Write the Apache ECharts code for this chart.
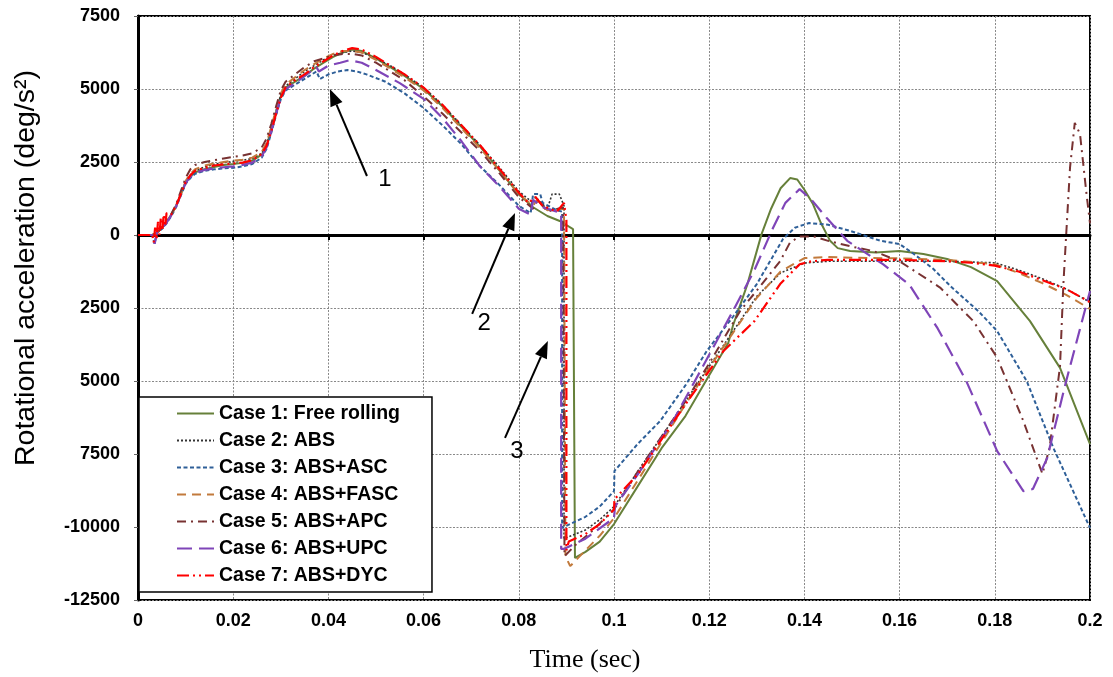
<!DOCTYPE html>
<html><head><meta charset="utf-8">
<script src="https://cdn.jsdelivr.net/npm/echarts@6/dist/echarts.min.js"></script>
<style>html,body{margin:0;padding:0;background:#fff}#c{width:1113px;height:677px}</style>
</head><body><div id="c"></div>
<script>
// ---- tick labels (as printed in the figure) ----
const xTickLabels = ['0','0.02','0.04','0.06','0.08','0.1','0.12','0.14','0.16','0.18','0.2'];
const yTickLabels = ['-12500','-10000','7500','5000','2500','0','2500','5000','7500']; // bottom -> top, as printed
const seriesNames = ['Case 1: Free rolling','Case 2: ABS','Case 3: ABS+ASC','Case 4: ABS+FASC','Case 5: ABS+APC','Case 6: ABS+UPC','Case 7: ABS+DYC'];

// ---- Case 1: Free rolling ----
const t1 = [0,0.003,0.004,0.005,0.006,0.007,0.008,0.009,0.010,0.011,0.012,0.014,0.016,0.018,0.020,0.022,0.024,0.026,0.027,0.028,0.029,0.030,0.031,0.033,0.035,0.037,0.039,0.041,0.043,0.045,0.047,0.050,0.053,0.056,0.060,0.064,0.068,0.072,0.076,0.080,0.083,0.086,0.0886,0.0914,0.0918,0.0918,0.094,0.097,0.100,0.105,0.110,0.115,0.120,0.124,0.125,0.128,0.131,0.133,0.135,0.137,0.1385,0.140,0.1418,0.1435,0.1454,0.147,0.1496,0.155,0.160,0.165,0.170,0.175,0.1805,0.1874,0.1937,0.200];
const v1 = [0,0,80,250,450,700,1000,1400,1800,2000,2150,2250,2330,2400,2430,2470,2550,2750,3050,3600,4200,4750,5050,5250,5450,5700,5900,6100,6250,6350,6300,6050,5750,5450,5000,4400,3700,3000,2200,1400,950,650,480,200,150,-11060,-10850,-10500,-9900,-8600,-7300,-6200,-4800,-3700,-3100,-1700,30,900,1600,1950,1900,1550,1060,400,-200,-450,-550,-600,-550,-650,-820,-1100,-1580,-2950,-4550,-7160];
// ---- Case 2: ABS ----
const t2 = [0,0.003,0.004,0.005,0.006,0.007,0.008,0.009,0.010,0.011,0.012,0.014,0.016,0.018,0.020,0.022,0.024,0.026,0.027,0.028,0.029,0.030,0.031,0.033,0.035,0.037,0.039,0.041,0.043,0.045,0.047,0.050,0.053,0.056,0.060,0.064,0.068,0.072,0.076,0.080,0.083,0.0835,0.086,0.087,0.0885,0.0895,0.0895,0.094,0.097,0.100,0.105,0.110,0.115,0.120,0.125,0.130,0.135,0.140,0.145,0.150,0.160,0.170,0.180,0.185,0.190,0.195,0.200];
const v2 = [0,0,60,230,430,680,1000,1400,1800,2050,2200,2330,2420,2480,2520,2560,2620,2800,3100,3650,4250,4800,5100,5350,5600,5800,6000,6150,6250,6300,6250,6050,5800,5500,5050,4450,3750,3050,2300,1500,1100,1300,900,1400,1400,1000,-10400,-10100,-9750,-9300,-8100,-6900,-5700,-4500,-3300,-2100,-1300,-960,-900,-900,-900,-900,-950,-1200,-1500,-1850,-2300];
// ---- Case 3: ABS+ASC ----
const t3 = [0,0.003,0.0035,0.004,0.005,0.006,0.007,0.008,0.009,0.010,0.011,0.012,0.014,0.016,0.018,0.020,0.022,0.024,0.026,0.027,0.028,0.029,0.030,0.031,0.033,0.035,0.0375,0.0382,0.040,0.042,0.044,0.046,0.048,0.052,0.056,0.060,0.064,0.068,0.0718,0.076,0.080,0.0825,0.083,0.0845,0.085,0.088,0.0891,0.0891,0.094,0.097,0.100,0.1001,0.105,0.1097,0.115,0.1195,0.125,0.130,0.1355,0.138,0.141,0.145,0.1496,0.156,0.160,0.163,0.167,0.171,0.1765,0.1805,0.1867,0.1923,0.200];
const v3 = [0,0,-300,100,200,400,650,950,1350,1750,1950,2100,2200,2250,2280,2300,2350,2430,2650,2950,3500,4100,4650,4950,5150,5350,5600,5340,5500,5600,5650,5600,5500,5250,4850,4350,3750,3100,2360,1700,1000,750,1400,1400,1100,850,800,-10030,-9650,-9300,-8770,-8080,-7150,-6370,-5150,-3970,-2800,-1680,-140,250,410,350,140,-200,-310,-650,-1150,-1800,-2600,-3290,-5000,-7290,-10030];
// ---- Case 4: ABS+FASC ----
const t4 = [0,0.003,0.004,0.005,0.006,0.007,0.008,0.009,0.010,0.011,0.012,0.014,0.016,0.018,0.020,0.022,0.024,0.026,0.027,0.028,0.029,0.030,0.031,0.033,0.035,0.037,0.039,0.041,0.043,0.045,0.047,0.050,0.053,0.056,0.060,0.064,0.068,0.072,0.076,0.080,0.083,0.0838,0.086,0.0895,0.0898,0.0898,0.0908,0.094,0.097,0.100,0.105,0.110,0.115,0.120,0.125,0.130,0.135,0.140,0.145,0.150,0.160,0.170,0.180,0.185,0.190,0.195,0.200];
const v4 = [0,0,70,250,450,700,1000,1400,1850,2100,2250,2380,2450,2500,2550,2580,2650,2850,3150,3700,4300,4850,5150,5400,5650,5850,6050,6200,6300,6300,6250,6000,5700,5400,4950,4350,3650,2950,2200,1400,1000,1200,850,900,900,-11000,-11340,-10800,-10300,-9700,-8400,-7100,-5800,-4550,-3350,-2150,-1250,-790,-750,-780,-800,-850,-1000,-1300,-1650,-2050,-2530];
// ---- Case 5: ABS+APC ----
const t5 = [0,0.003,0.004,0.005,0.006,0.007,0.008,0.009,0.010,0.011,0.012,0.014,0.016,0.018,0.020,0.022,0.024,0.026,0.027,0.028,0.029,0.030,0.031,0.033,0.035,0.037,0.039,0.041,0.043,0.045,0.047,0.050,0.053,0.056,0.060,0.064,0.068,0.072,0.076,0.080,0.083,0.084,0.086,0.0893,0.0896,0.0896,0.092,0.095,0.100,0.105,0.110,0.115,0.120,0.1265,0.130,0.1349,0.137,0.139,0.142,0.145,0.150,0.1545,0.160,0.1685,0.1755,0.1805,0.186,0.190,0.1915,0.1937,0.1944,0.1958,0.1968,0.1979,0.1992,0.200];
const v5 = [0,0,70,250,450,720,1050,1500,1950,2250,2400,2500,2560,2620,2680,2720,2800,3000,3300,3800,4400,4950,5250,5500,5750,5950,6050,6150,6200,6200,6150,5900,5600,5300,4750,4150,3500,2850,2100,1300,900,1200,800,950,900,-11000,-10600,-10200,-9400,-8100,-6900,-5700,-4400,-2600,-1900,-900,-250,-50,-50,-200,-400,-550,-900,-1800,-2950,-4200,-6370,-8180,-7300,-4500,-1700,2300,3840,3460,1500,400];
// ---- Case 6: ABS+UPC ----
const t6 = [0,0.003,0.0035,0.004,0.005,0.006,0.007,0.008,0.009,0.010,0.011,0.012,0.014,0.016,0.018,0.020,0.022,0.024,0.026,0.027,0.028,0.029,0.030,0.031,0.033,0.035,0.0375,0.038,0.040,0.0425,0.0445,0.047,0.050,0.055,0.060,0.064,0.068,0.0718,0.076,0.080,0.0825,0.083,0.085,0.088,0.0889,0.0889,0.0895,0.094,0.100,0.1002,0.105,0.1124,0.118,0.122,0.125,0.1295,0.1334,0.136,0.139,0.1415,0.1447,0.149,0.1565,0.162,0.168,0.174,0.1805,0.186,0.188,0.191,0.195,0.200];
const v6 = [0,0,-300,100,220,420,680,980,1380,1780,2000,2120,2230,2280,2320,2350,2400,2480,2700,3000,3550,4150,4700,5000,5200,5450,5750,5600,5800,5900,5990,5900,5650,5200,4660,4000,3200,2360,1650,900,700,1200,950,800,750,-10750,-10750,-10400,-9690,-9300,-8200,-6370,-4700,-3500,-2600,-1200,240,1100,1570,1200,580,-200,-1000,-1690,-3200,-5000,-7400,-8770,-8700,-7640,-5000,-1920];
// ---- Case 7: ABS+DYC ----
const t7 = [0,0.0025,0.003,0.0033,0.0036,0.0039,0.0042,0.0045,0.0048,0.0051,0.0054,0.0057,0.006,0.007,0.008,0.009,0.010,0.011,0.012,0.014,0.016,0.018,0.020,0.022,0.024,0.026,0.027,0.028,0.029,0.030,0.031,0.033,0.035,0.037,0.039,0.041,0.043,0.045,0.047,0.050,0.053,0.056,0.060,0.064,0.068,0.072,0.076,0.080,0.082,0.0835,0.085,0.088,0.0895,0.0900,0.0900,0.0905,0.094,0.097,0.100,0.1001,0.105,0.110,0.115,0.120,0.123,0.1295,0.1349,0.139,0.1415,0.145,0.150,0.160,0.170,0.175,0.180,0.185,0.190,0.195,0.200];
const v7 = [0,0,20,-250,250,-150,450,0,600,150,700,300,750,700,1000,1400,1800,2050,2200,2300,2380,2420,2450,2480,2560,2780,3050,3550,4150,4700,5050,5300,5500,5750,5950,6150,6300,6400,6350,6100,5800,5500,5050,4450,3750,3050,2250,1450,1100,1300,1000,800,1100,500,-10800,-10500,-10240,-9900,-9400,-9050,-8200,-7000,-5800,-4650,-3970,-2950,-1680,-1000,-900,-850,-850,-850,-900,-950,-1050,-1250,-1550,-1850,-2300];

const allT = [t1,t2,t3,t4,t5,t6,t7];
const allV = [v1,v2,v3,v4,v5,v6,v7];

// ---- styles ----
const colors = ['#66803A','#333333','#2E5F98','#C27A3C','#783232','#7F45B8','#FF0000'];
const dashes = ['solid',[2,2],[4,2.5],[9,6],[9,5,2,5],[15,7],[12,4,2,4,2,4]];
const widths = [2,1.6,2,2,2,2.2,2.2];

const series = seriesNames.map((name, i) => ({
  name, type: 'line', symbol: 'none', smooth: false, z: 2 + i,
  data: allT[i].map((t, k) => [t, allV[i][k]]),
  lineStyle: { color: colors[i], width: widths[i], type: dashes[i] },
  itemStyle: { color: colors[i] }
}));

const chart = echarts.init(document.getElementById('c'));
const FONT = '"Liberation Sans", Arial, sans-serif';
chart.setOption({
  animation: false,
  backgroundColor: '#fff',
  grid: { left: 138, right: 23, top: 16, bottom: 77, show: true, borderColor: '#000', borderWidth: 2, backgroundColor: 'transparent' },
  xAxis: {
    type: 'value', min: 0, max: 0.2, interval: 0.02,
    axisLine: { onZero: true, lineStyle: { color: '#000', width: 3 } },
    axisTick: { show: true, length: 5, lineStyle: { color: '#000', width: 2 } },
    axisLabel: { margin: 12, fontSize: 18, fontWeight: 'bold', color: '#000', fontFamily: FONT,
      formatter: v => xTickLabels[Math.round(v / 0.02)] },
    splitLine: { show: true, lineStyle: { color: '#888', type: [2, 1.5], width: 1 } }
  },
  yAxis: {
    type: 'value', min: -12500, max: 7500, interval: 2500,
    axisLine: { show: true, onZero: false, lineStyle: { color: '#000', width: 3 } },
    axisTick: { show: true, length: 4, lineStyle: { color: '#666', width: 1 } },
    axisLabel: { margin: 18, fontSize: 18, fontWeight: 'bold', color: '#000', fontFamily: FONT,
      formatter: v => yTickLabels[Math.round((v + 12500) / 2500)] },
    splitLine: { show: true, lineStyle: { color: '#888', type: [2, 1.5], width: 1 } }
  },
  legend: {
    orient: 'vertical', left: 139, top: 397, padding: [5, 32, 5, 37],
    itemWidth: 37, itemHeight: 14, itemGap: 4,
    itemStyle: { opacity: 0 },
    backgroundColor: '#fff', borderColor: '#000', borderWidth: 1.5,
    textStyle: { fontSize: 19.5, fontWeight: 'bold', color: '#000', fontFamily: FONT, lineHeight: 23 },
    data: seriesNames
  },
  series
});

// ---- titles & annotations ----
const annoText = ['1','2','3'];
const annoTip  = [[0.0403, 5000], [0.0792, 750], [0.0861, -3630]];
const annoTail = [[0.0481, 2020], [0.0702, -2700], [0.0771, -6950]];
const annoLbl  = [[0.0519, 1920], [0.0727, -3010], [0.0796, -7400]];

const g = [
  { type: 'text', x: 26, y: 268, rotation: Math.PI / 2,
    style: { text: 'Rotational acceleration (deg/s²)', font: '28.5px ' + FONT, fill: '#000', align: 'center', verticalAlign: 'middle' } },
  { type: 'text', x: 585, y: 660,
    style: { text: 'Time (sec)', font: '26px "Liberation Serif", "Times New Roman", serif', fill: '#000', align: 'center', verticalAlign: 'middle' } }
];
for (let i = 0; i < 3; i++) {
  const tip = chart.convertToPixel({ gridIndex: 0 }, annoTip[i]);
  const tail = chart.convertToPixel({ gridIndex: 0 }, annoTail[i]);
  const lbl = chart.convertToPixel({ gridIndex: 0 }, annoLbl[i]);
  const dx = tip[0] - tail[0], dy = tip[1] - tail[1];
  const L = Math.hypot(dx, dy), ux = dx / L, uy = dy / L;
  const hl = 17, hw = 6.5;
  const bx = tip[0] - ux * hl, by = tip[1] - uy * hl;
  g.push({ type: 'line', shape: { x1: tail[0], y1: tail[1], x2: bx, y2: by }, style: { stroke: '#000', lineWidth: 2 }, z: 100 });
  g.push({ type: 'polygon', shape: { points: [[tip[0], tip[1]], [bx - uy * hw, by + ux * hw], [bx + uy * hw, by - ux * hw]] }, style: { fill: '#000' }, z: 100 });
  g.push({ type: 'text', x: lbl[0], y: lbl[1], style: { text: annoText[i], font: '24px ' + FONT, fill: '#000', align: 'center', verticalAlign: 'middle' }, z: 100 });
}
chart.setOption({ graphic: g });
</script></body></html>
